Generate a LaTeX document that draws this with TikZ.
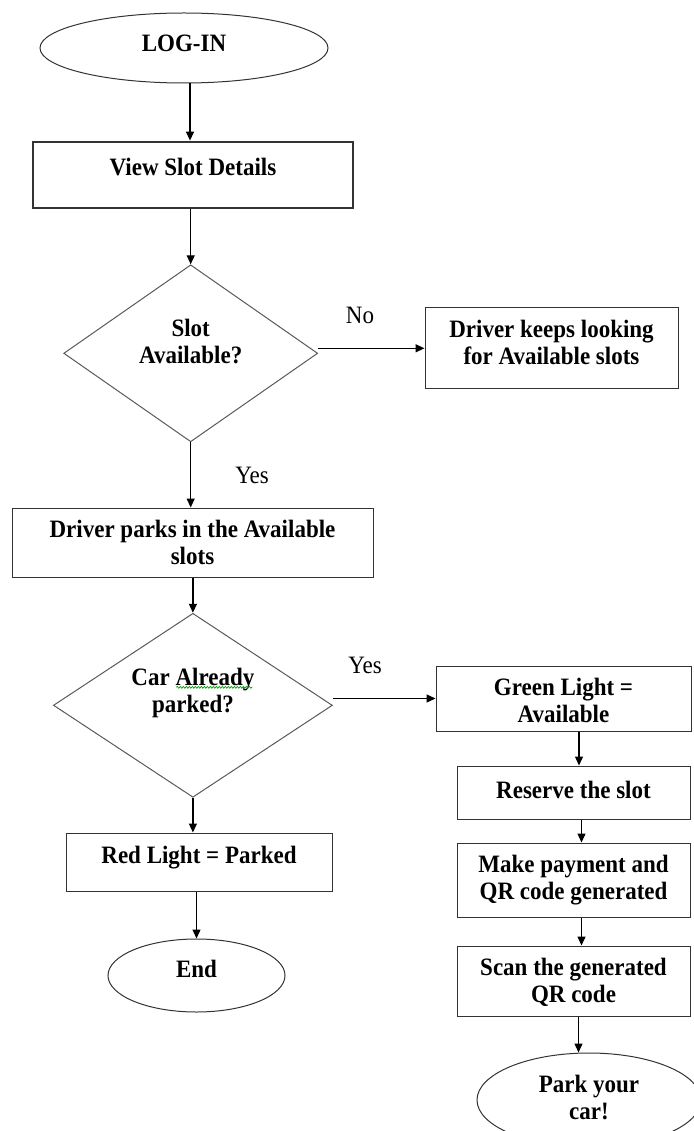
\documentclass[tikz,border=0pt]{standalone}
\usepackage{fontspec}
\setmainfont{Liberation Serif}[FakeStretch=0.92]
\usetikzlibrary{shapes.geometric,arrows.meta,calc,decorations.pathmorphing}
\newcommand\lift[2]{\raisebox{#1}[\height][\depth]{#2}}
\newcommand\two[3]{\raisebox{#1}[\height][\depth]{\begin{tabular}{@{}c@{}}#2\\#3\end{tabular}}}
\begin{document}
\begin{tikzpicture}[x=1pt,y=-1pt,
  every node/.style={font=\fontsize{25}{27}\selectfont\bfseries, inner sep=0pt},
  box/.style={draw=black!80, line width=1pt, rectangle},
  dec/.style={draw=black!65, line width=1pt, diamond},
  term/.style={draw=black!80, line width=1pt, ellipse},
  lbl/.style={font=\fontsize{25}{27}\selectfont, anchor=base},
  arr/.style={draw=black, line width=1.3pt, -{Triangle[length=9pt,width=8pt]}}
]
\useasboundingbox (0,0) rectangle (693,1131);

\node[term, minimum width=288pt, minimum height=70pt] (login) at (184,48) {\lift{5pt}{LOG-IN}};
\node[box, line width=2.8pt, minimum width=320pt, minimum height=66pt] (view) at (193,175) {\lift{8pt}{View Slot Details}};
\node[dec, minimum width=254pt, minimum height=177pt] (d1) at (190.7,353.3) {\two{9pt}{Slot}{Available?}};
\node[box, minimum width=253pt, minimum height=81pt] (keep) at (551.5,348.3) {\two{2.5pt}{Driver keeps looking}{for Available slots}};
\node[box, minimum width=361pt, minimum height=69pt] (park) at (192.5,542.5) {\two{-2.85pt}{Driver parks in the Available}{slots}};
\node[dec, minimum width=279pt, minimum height=184pt] (d2) at (192.9,705.3) {\two{11.5pt}{Car Already}{parked?}};
\node[box, minimum width=255pt, minimum height=65pt] (green) at (563.5,698.5) {\two{-5.5pt}{Green Light =}{Available}};
\node[box, minimum width=233pt, minimum height=53pt] (reserve) at (573.5,792.5) {\lift{2.5pt}{Reserve the slot}};
\node[box, minimum width=233pt, minimum height=74pt] (pay) at (573.5,880) {\two{-1pt}{Make payment and}{QR code generated}};
\node[box, minimum width=233pt, minimum height=70pt] (scan) at (573.5,981) {\two{-2.3pt}{Scan the generated}{QR code}};
\node[term, minimum width=224pt, minimum height=94pt] (car) at (589,1100) {\two{-1pt}{Park your}{car!}};
\node[box, minimum width=266pt, minimum height=58pt] (red) at (199,862) {\lift{4pt}{Red Light = Parked}};
\node[term, minimum width=177pt, minimum height=73pt] (end) at (196.5,975.5) {\lift{7pt}{End}};

\node[lbl] (no) at (360,323) {No};
\node[lbl] (yes1) at (252,483) {Yes};
\node[lbl] (yes2) at (365,673) {Yes};

\coordinate (a1) at ($(login.south)+(6,0)$);
\draw[arr] (a1) -- (a1 |- view.north);
\draw[arr] (view.south -| d1.north) -- (d1.north);
\draw[arr] (d1.east |- keep.west) -- (keep.west);
\draw[arr] (d1.south) -- (d1.south |- park.north);
\draw[arr] (park.south -| d2.north) -- (d2.north);
\draw[arr] (d2.east |- green.west) -- (green.west);
\coordinate (g1) at ($(reserve.north)+(5.5,0)$);
\draw[arr] (g1 |- green.south) -- (g1);
\coordinate (r1) at ($(pay.north)+(8,0)$);
\draw[arr] (r1 |- reserve.south) -- (r1);
\coordinate (p1) at ($(scan.north)+(8,0)$);
\draw[arr] (p1 |- pay.south) -- (p1);
\coordinate (s1) at ($(scan.south)+(5,0)$);
\draw[arr] (s1) -- (s1 |- car.north);
\draw[arr] (d2.south) -- (d2.south |- red.north);
\draw[arr] (red.south -| end.north) -- (end.north);

\draw[green!60!black, line width=0.7pt, decorate, decoration={snake, amplitude=0.9pt, segment length=3pt}]
  ($(d2.center)+(-16.5,-18)$) -- ($(d2.center)+(59.5,-18)$);
\end{tikzpicture}
\end{document}
